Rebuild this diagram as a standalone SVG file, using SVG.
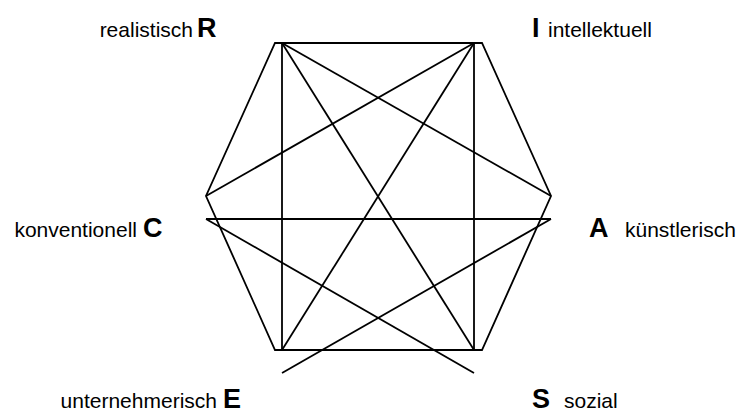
<svg xmlns="http://www.w3.org/2000/svg" width="739" height="416" viewBox="0 0 739 416">
<style>
.ln{stroke:#000;stroke-width:1.8;fill:none;stroke-linecap:butt}
.lab{font-family:"Liberation Sans",Arial,sans-serif;font-size:21px;fill:#000}
.let{font-family:"Liberation Sans",Arial,sans-serif;font-size:27px;font-weight:bold;fill:#000}
</style>
<rect width="739" height="416" fill="#fff"/>
<g id="connectors">
<polygon class="ln" points="275,43 482,43 551,196 482,350 275,350 206,196"/>
<line class="ln" x1="282" y1="43" x2="282" y2="350"/>
<line class="ln" x1="474" y1="43" x2="474" y2="350"/>
<line class="ln" x1="282" y1="43" x2="551" y2="196"/>
<line class="ln" x1="474" y1="43" x2="206" y2="196"/>
<line class="ln" x1="282" y1="43" x2="474" y2="350"/>
<line class="ln" x1="474" y1="43" x2="282" y2="350"/>
<line class="ln" x1="206" y1="219" x2="551" y2="219"/>
<line class="ln" x1="206" y1="219" x2="474" y2="373"/>
<line class="ln" x1="551" y1="219" x2="282" y2="373"/>
</g>
<g id="node-R">
<text class="lab" x="193" y="37" text-anchor="end">realistisch</text>
<text class="let" x="197" y="37">R</text>
</g>
<g id="node-I">
<text class="let" x="532" y="37">I</text>
<text class="lab" x="548" y="37">intellektuell</text>
</g>
<g id="node-C">
<text class="lab" x="137" y="237" text-anchor="end">konventionell</text>
<text class="let" x="143" y="237">C</text>
</g>
<g id="node-A">
<text class="let" x="589" y="237">A</text>
<text class="lab" x="625" y="237">künstlerisch</text>
</g>
<g id="node-E">
<text class="lab" x="217" y="408" text-anchor="end">unternehmerisch</text>
<text class="let" x="223" y="408">E</text>
</g>
<g id="node-S">
<text class="let" x="532" y="408">S</text>
<text class="lab" x="564" y="408">sozial</text>
</g>
</svg>
